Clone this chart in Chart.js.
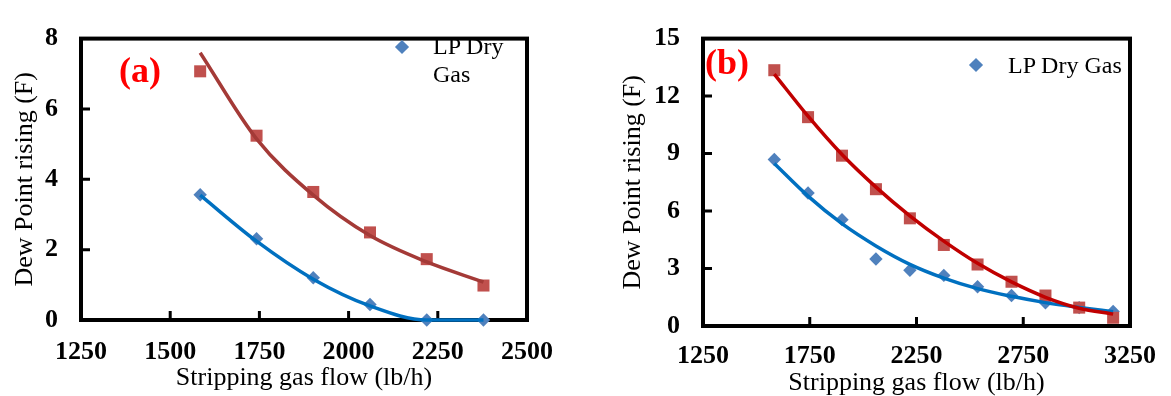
<!DOCTYPE html>
<html>
<head>
<meta charset="utf-8">
<script src="https://cdn.jsdelivr.net/npm/chart.js@4.4.1/dist/chart.umd.min.js"></script>
<style>
  body { margin: 0; background: #fff; }
  #wrap { position: relative; width: 1171px; height: 396px; overflow: hidden; background: #fff; }
  canvas { position: absolute; top: 0; }
  .tag { position: absolute; font-family: "Liberation Serif", "Times New Roman", serif; font-weight: bold; font-size: 36px; line-height: 36px; color: #ff0000; }
  .leg { position: absolute; font-family: "Liberation Serif", "Times New Roman", serif; font-size: 24px; line-height: 28px; color: #000; white-space: nowrap; }
  .dia { position: absolute; width: 10px; height: 10px; background: #4f81bd; transform: rotate(45deg); }
</style>
</head>
<body>
<div id="wrap">
  <canvas id="chartA" width="585" height="396" style="left:0"></canvas>
  <canvas id="chartB" width="586" height="396" style="left:585px"></canvas>
  <div class="tag" style="left:119px; top:52px">(a)</div>
  <div class="tag" style="left:705px; top:44px">(b)</div>
  <div class="dia" style="left:397px; top:42px"></div>
  <div class="leg" style="left:433px; top:32px">LP Dry<br>Gas</div>
  <div class="dia" style="left:971px; top:60px"></div>
  <div class="leg" style="left:1008px; top:51px">LP Dry Gas</div>
</div>
<script>
  // (a) values
  var flowA = [1584, 1742, 1901, 2060, 2219, 2378];
  var dryGasA = [3.56, 2.31, 1.2, 0.44, 0, 0];
  var otherA = [7.07, 5.24, 3.64, 2.49, 1.73, 0.98];
  var dryTrendA = [3.55, 2.24, 1.16, 0.4, 0.0, 0.0];
  var otherTrendA = [7.6, 5.15, 3.55, 2.4, 1.65, 1.08];

  // (b) values
  var flowB = [1584, 1742, 1901, 2060, 2219, 2378, 2536, 2695, 2854, 3012, 3171];
  var dryGasB = [8.69, 6.94, 5.55, 3.5, 2.91, 2.64, 2.05, 1.59, 1.21, 0.96, 0.76];
  var otherB = [13.35, 10.9, 8.89, 7.14, 5.62, 4.23, 3.21, 2.31, 1.59, 0.96, 0.43];
  var dryTrendB = [8.48, 6.78, 5.34, 4.18, 3.22, 2.5, 1.95, 1.55, 1.22, 0.97, 0.75];
  var otherTrendB = [13.15, 10.95, 8.95, 7.25, 5.75, 4.43, 3.27, 2.3, 1.5, 0.93, 0.62];

  var xTicksA = [1250, 1500, 1750, 2000, 2250, 2500];
  var yTicksA = [0, 2, 4, 6, 8];
  var xTicksB = [1250, 1750, 2250, 2750, 3250];
  var yTicksB = [0, 3, 6, 9, 12, 15];

  var serif = '"Liberation Serif", "Times New Roman", serif';

  function pts(xs, ys) {
    return xs.map((x, i) => ({ x: x, y: ys[i] }));
  }

  // black box round the plot, small ticks pointing inwards
  var plotFrame = {
    id: 'plotFrame',
    beforeDatasetsDraw(chart) {
      var ctx = chart.ctx, a = chart.chartArea, x = chart.scales.x, y = chart.scales.y;
      ctx.save();
      ctx.strokeStyle = '#000';
      ctx.lineWidth = 4;
      ctx.strokeRect(a.left, a.top, a.right - a.left, a.bottom - a.top);
      ctx.lineWidth = 3;
      ctx.beginPath();
      x.ticks.forEach(t => {
        if (t.value > x.min && t.value < x.max) {
          var px = x.getPixelForValue(t.value);
          ctx.moveTo(px, a.bottom);
          ctx.lineTo(px, a.bottom - 9);
        }
      });
      y.ticks.forEach(t => {
        if (t.value > y.min && t.value < y.max) {
          var py = y.getPixelForValue(t.value);
          ctx.moveTo(a.left, py);
          ctx.lineTo(a.left + 9, py);
        }
      });
      ctx.stroke();
      ctx.restore();
    }
  };

  function makeChart(id, o) {
    var ctx = document.getElementById(id).getContext('2d');
    return new Chart(ctx, {
      type: 'scatter',
      data: {
        datasets: [
          { data: pts(o.flow, o.otherTrend), showLine: true, pointRadius: 0, borderColor: o.redLine, borderWidth: 3.5, cubicInterpolationMode: 'monotone', clip: false },
          { data: pts(o.flow, o.dryTrend), showLine: true, pointRadius: 0, borderColor: '#0070c0', borderWidth: 3.5, cubicInterpolationMode: 'monotone', clip: false },
          { label: '', data: pts(o.flow, o.other), pointStyle: 'rect', pointRadius: 8.5, pointBackgroundColor: '#c0504d', pointBorderWidth: 0, clip: false },
          { label: 'LP Dry Gas', data: pts(o.flow, o.dry), pointStyle: 'rectRot', pointRadius: 6.7, pointBackgroundColor: '#4f81bd', pointBorderWidth: 0, clip: false }
        ]
      },
      options: {
        responsive: false,
        animation: false,
        events: [],
        layout: { padding: { top: o.padTop, right: o.padRight, left: 0, bottom: 0 } },
        plugins: { legend: { display: false }, tooltip: { enabled: false } },
        scales: {
          x: {
            type: 'linear',
            min: o.xTicks[0],
            max: o.xTicks[o.xTicks.length - 1],
            afterBuildTicks: s => { s.ticks = o.xTicks.map(v => ({ value: v })); },
            afterFit: s => { s.height = o.xHeight; },
            grid: { display: false, drawTicks: false },
            border: { display: false },
            ticks: { autoSkip: false, maxRotation: 0, padding: o.xTickPad, color: '#000', font: { family: serif, size: 26, weight: 'bold' }, callback: v => String(v) },
            title: { display: true, text: 'Stripping gas flow (lb/h)', color: '#000', font: { family: serif, size: 26, lineHeight: 1 }, padding: { top: 0, bottom: o.xTitlePad } }
          },
          y: {
            type: 'linear',
            min: o.yTicks[0],
            max: o.yTicks[o.yTicks.length - 1],
            afterBuildTicks: s => { s.ticks = o.yTicks.map(v => ({ value: v })); },
            afterFit: s => { s.width = o.yWidth; },
            grid: { display: false, drawTicks: false },
            border: { display: false },
            ticks: { padding: 23, color: '#000', font: { family: serif, size: 26, weight: 'bold' }, callback: v => String(v) },
            title: { display: true, text: 'Dew Point rising (F)', color: '#000', font: { family: serif, size: 26, lineHeight: 1 }, padding: { top: o.yTitlePad, bottom: 0 } }
          }
        }
      },
      plugins: [plotFrame]
    });
  }

  makeChart('chartA', {
    flow: flowA, dry: dryGasA, other: otherA, dryTrend: dryTrendA, otherTrend: otherTrendA,
    xTicks: xTicksA, yTicks: yTicksA, redLine: '#a43a37',
    padTop: 20, padRight: 58, xHeight: 76, yWidth: 81, xTickPad: 17, xTitlePad: 5, yTitlePad: 12
  });

  makeChart('chartB', {
    flow: flowB, dry: dryGasB, other: otherB, dryTrend: dryTrendB, otherTrend: otherTrendB,
    xTicks: xTicksB, yTicks: yTicksB, redLine: '#c00000',
    padTop: 24, padRight: 33, xHeight: 70, yWidth: 118, xTickPad: 15, xTitlePad: 0, yTitlePad: 35
  });
</script>
</body>
</html>
